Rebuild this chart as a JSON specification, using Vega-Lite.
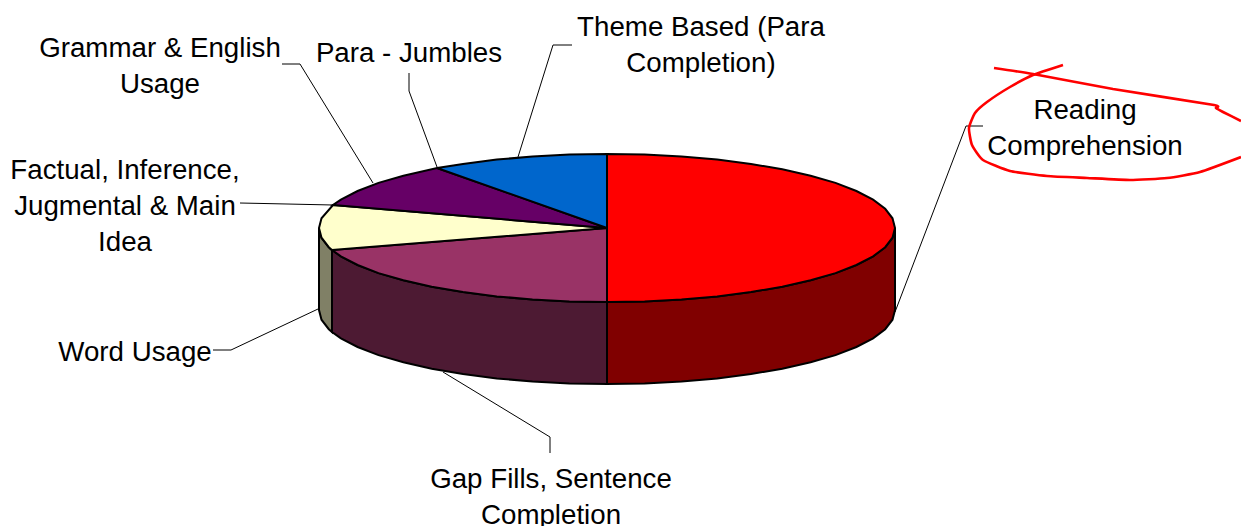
{
"$schema":"https://vega.github.io/schema/vega-lite/v6.json",
"width":1241,"height":526,"padding":0,"autosize":{"type":"none"},
"background":"#ffffff","config":{"view":{"stroke":null}},
"datasets":{
"walls":[
{"s":"Reading Comprehension side","x":0,"t":-74,"b":-156},{"s":"Reading Comprehension side","x":37.6,"t":-73.4,"b":-155.4},{"s":"Reading Comprehension side","x":74.5,"t":-71.5,"b":-153.5},{"s":"Reading Comprehension side","x":110.2,"t":-68.4,"b":-150.4},{"s":"Reading Comprehension side","x":144,"t":-64.1,"b":-146.1},{"s":"Reading Comprehension side","x":175.3,"t":-58.7,"b":-140.7},{"s":"Reading Comprehension side","x":203.6,"t":-52.3,"b":-134.3},{"s":"Reading Comprehension side","x":228.5,"t":-45.1,"b":-127.1},{"s":"Reading Comprehension side","x":249.4,"t":-37,"b":-119},{"s":"Reading Comprehension side","x":266.1,"t":-28.3,"b":-110.3},{"s":"Reading Comprehension side","x":278.2,"t":-19.2,"b":-101.2},{"s":"Reading Comprehension side","x":285.5,"t":-9.7,"b":-91.7},{"s":"Reading Comprehension side","x":288,"t":0,"b":-82},
{"s":"Gap Fills side","x":0,"t":-74,"b":-156},{"s":"Gap Fills side","x":-37.6,"t":-73.4,"b":-155.4},{"s":"Gap Fills side","x":-74.5,"t":-71.5,"b":-153.5},{"s":"Gap Fills side","x":-110.2,"t":-68.4,"b":-150.4},{"s":"Gap Fills side","x":-144,"t":-64.1,"b":-146.1},{"s":"Gap Fills side","x":-175.3,"t":-58.7,"b":-140.7},{"s":"Gap Fills side","x":-203.6,"t":-52.3,"b":-134.3},{"s":"Gap Fills side","x":-228.5,"t":-45.1,"b":-127.1},{"s":"Gap Fills side","x":-249.4,"t":-37,"b":-119},{"s":"Gap Fills side","x":-266.1,"t":-28.3,"b":-110.3},{"s":"Gap Fills side","x":-275,"t":-22,"b":-104},
{"s":"Word Usage side","x":-275,"t":-22,"b":-104},{"s":"Word Usage side","x":-278.2,"t":-19.2,"b":-101.2},{"s":"Word Usage side","x":-285.5,"t":-9.7,"b":-91.7},{"s":"Word Usage side","x":-288,"t":0,"b":-82}
],
"tops":[
{"s":"Reading Comprehension","i":0,"x":0,"y":0},{"s":"Reading Comprehension","i":1,"x":0,"y":74},{"s":"Reading Comprehension","i":2,"x":37.6,"y":73.4},{"s":"Reading Comprehension","i":3,"x":74.5,"y":71.5},{"s":"Reading Comprehension","i":4,"x":110.2,"y":68.4},{"s":"Reading Comprehension","i":5,"x":144,"y":64.1},{"s":"Reading Comprehension","i":6,"x":175.3,"y":58.7},{"s":"Reading Comprehension","i":7,"x":203.6,"y":52.3},{"s":"Reading Comprehension","i":8,"x":228.5,"y":45.1},{"s":"Reading Comprehension","i":9,"x":249.4,"y":37},{"s":"Reading Comprehension","i":10,"x":266.1,"y":28.3},{"s":"Reading Comprehension","i":11,"x":278.2,"y":19.2},{"s":"Reading Comprehension","i":12,"x":285.5,"y":9.7},{"s":"Reading Comprehension","i":13,"x":288,"y":0},{"s":"Reading Comprehension","i":14,"x":285.5,"y":-9.7},{"s":"Reading Comprehension","i":15,"x":278.2,"y":-19.2},{"s":"Reading Comprehension","i":16,"x":266.1,"y":-28.3},{"s":"Reading Comprehension","i":17,"x":249.4,"y":-37},{"s":"Reading Comprehension","i":18,"x":228.5,"y":-45.1},{"s":"Reading Comprehension","i":19,"x":203.6,"y":-52.3},{"s":"Reading Comprehension","i":20,"x":175.3,"y":-58.7},{"s":"Reading Comprehension","i":21,"x":144,"y":-64.1},{"s":"Reading Comprehension","i":22,"x":110.2,"y":-68.4},{"s":"Reading Comprehension","i":23,"x":74.5,"y":-71.5},{"s":"Reading Comprehension","i":24,"x":37.6,"y":-73.4},{"s":"Reading Comprehension","i":25,"x":0,"y":-74},{"s":"Reading Comprehension","i":26,"x":0,"y":0},
{"s":"Gap Fills","i":0,"x":0,"y":0},{"s":"Gap Fills","i":1,"x":0,"y":-74},{"s":"Gap Fills","i":2,"x":-37.6,"y":-73.4},{"s":"Gap Fills","i":3,"x":-74.5,"y":-71.5},{"s":"Gap Fills","i":4,"x":-110.2,"y":-68.4},{"s":"Gap Fills","i":5,"x":-144,"y":-64.1},{"s":"Gap Fills","i":6,"x":-175.3,"y":-58.7},{"s":"Gap Fills","i":7,"x":-203.6,"y":-52.3},{"s":"Gap Fills","i":8,"x":-228.5,"y":-45.1},{"s":"Gap Fills","i":9,"x":-249.4,"y":-37},{"s":"Gap Fills","i":10,"x":-266.1,"y":-28.3},{"s":"Gap Fills","i":11,"x":-275,"y":-22},{"s":"Gap Fills","i":12,"x":0,"y":0},
{"s":"Word Usage","i":0,"x":0,"y":0},{"s":"Word Usage","i":1,"x":-275,"y":-22},{"s":"Word Usage","i":2,"x":-278.2,"y":-19.2},{"s":"Word Usage","i":3,"x":-285.5,"y":-9.7},{"s":"Word Usage","i":4,"x":-288,"y":0},{"s":"Word Usage","i":5,"x":-285.5,"y":9.7},{"s":"Word Usage","i":6,"x":-274,"y":23},{"s":"Word Usage","i":7,"x":0,"y":0},
{"s":"Factual","i":0,"x":0,"y":0},{"s":"Factual","i":1,"x":-274,"y":23},{"s":"Factual","i":2,"x":-266.1,"y":28.3},{"s":"Factual","i":3,"x":-249.4,"y":37},{"s":"Factual","i":4,"x":-228.5,"y":45.1},{"s":"Factual","i":5,"x":-203.6,"y":52.3},{"s":"Factual","i":6,"x":-170,"y":60},{"s":"Factual","i":7,"x":0,"y":0},
{"s":"Para - Jumbles","i":0,"x":0,"y":0},{"s":"Para - Jumbles","i":1,"x":-170,"y":60},{"s":"Para - Jumbles","i":2,"x":-144,"y":64.1},{"s":"Para - Jumbles","i":3,"x":-110.2,"y":68.4},{"s":"Para - Jumbles","i":4,"x":-74.5,"y":71.5},{"s":"Para - Jumbles","i":5,"x":-37.6,"y":73.4},{"s":"Para - Jumbles","i":6,"x":0,"y":74},{"s":"Para - Jumbles","i":7,"x":0,"y":0}
],
"leaders":[
{"k":"g","i":0,"x":-325,"y":164},{"k":"g","i":1,"x":-307,"y":164},{"k":"g","i":2,"x":-234,"y":45},
{"k":"p","i":0,"x":-198,"y":155},{"k":"p","i":1,"x":-198,"y":137},{"k":"p","i":2,"x":-170,"y":61},
{"k":"t","i":0,"x":-89,"y":71},{"k":"t","i":1,"x":-54,"y":183},{"k":"t","i":2,"x":-35,"y":183},
{"k":"f","i":0,"x":-367,"y":25},{"k":"f","i":1,"x":-274,"y":23},
{"k":"w","i":0,"x":-394,"y":-122},{"k":"w","i":1,"x":-376,"y":-122},{"k":"w","i":2,"x":-289,"y":-81},
{"k":"c","i":0,"x":-164,"y":-144},{"k":"c","i":1,"x":-57,"y":-209},{"k":"c","i":2,"x":-57,"y":-225},
{"k":"r","i":0,"x":288,"y":-84},{"k":"r","i":1,"x":359,"y":102},{"k":"r","i":2,"x":376,"y":102}
],
"ink":[
{"k":"a","i":0,"x":387,"y":160},{"k":"a","i":1,"x":426,"y":154},{"k":"a","i":2,"x":506,"y":139},{"k":"a","i":3,"x":607,"y":123},{"k":"a","i":4,"x":609,"y":120},{"k":"a","i":5,"x":616,"y":116},{"k":"a","i":6,"x":634,"y":107},
{"k":"b","i":0,"x":456,"y":163},{"k":"b","i":1,"x":426,"y":153},{"k":"b","i":2,"x":403,"y":141},{"k":"b","i":3,"x":380,"y":126},{"k":"b","i":4,"x":368,"y":115},{"k":"b","i":5,"x":362,"y":100},{"k":"b","i":6,"x":365,"y":83},{"k":"b","i":7,"x":376,"y":68},{"k":"b","i":8,"x":403,"y":57},{"k":"b","i":9,"x":440,"y":52},{"k":"b","i":10,"x":480,"y":50},{"k":"b","i":11,"x":523,"y":48},{"k":"b","i":12,"x":560,"y":50},{"k":"b","i":13,"x":593,"y":56},{"k":"b","i":14,"x":634,"y":71}
],
"labels":[
{"t":"Grammar & English\nUsage","x":-447,"y":179},
{"t":"Para - Jumbles","x":-198,"y":174},
{"t":"Theme Based (Para\nCompletion)","x":94,"y":200},
{"t":"Reading\nComprehension","x":478,"y":117},
{"t":"Factual, Inference,\nJugmental & Main\nIdea","x":-482,"y":57},
{"t":"Word Usage","x":-472,"y":-125},
{"t":"Gap Fills,  Sentence\nCompletion","x":-56,"y":-252}
]
},
"layer":[
{"data":{"name":"leaders"},"mark":{"type":"line","stroke":"#000000","strokeWidth":1},
 "encoding":{"x":{"field":"x","type":"quantitative","scale":{"domain":[-607,634],"nice":false,"zero":false},"axis":null},"y":{"field":"y","type":"quantitative","scale":{"domain":[-298,228],"nice":false,"zero":false},"axis":null},"detail":{"field":"k"},"order":{"field":"i"}}},
{"data":{"name":"walls"},"mark":{"type":"area","stroke":"#000000","strokeWidth":2},
 "encoding":{"x":{"field":"x","type":"quantitative"},"y":{"field":"t","type":"quantitative"},"y2":{"field":"b"},"fill":{"field":"s","type":"nominal","legend":null,"scale":{"domain":["Reading Comprehension side","Gap Fills side","Word Usage side","Reading Comprehension","Gap Fills","Word Usage","Factual","Para - Jumbles"],"range":["#800000","#4D1A33","#808066","#FF0000","#993366","#FFFFCC","#660066","#0066CC"]}}}},
{"data":{"name":"tops"},"mark":{"type":"line","filled":true,"stroke":"#000000","strokeWidth":2},
 "encoding":{"x":{"field":"x","type":"quantitative"},"y":{"field":"y","type":"quantitative"},"fill":{"field":"s","type":"nominal","legend":null},"detail":{"field":"s"},"order":{"field":"i"}}},
{"data":{"name":"ink"},"mark":{"type":"line","stroke":"#FF0000","strokeWidth":2.6,"interpolate":"cardinal","tension":0.5},
 "encoding":{"x":{"field":"x","type":"quantitative"},"y":{"field":"y","type":"quantitative"},"detail":{"field":"k"},"order":{"field":"i"}}},
{"data":{"name":"labels"},"mark":{"type":"text","font":"Liberation Sans","fontSize":27.7,"color":"#000000","lineBreak":"\n","lineHeight":36,"align":"center","baseline":"middle"},
 "encoding":{"x":{"field":"x","type":"quantitative"},"y":{"field":"y","type":"quantitative"},"text":{"field":"t"}}}
]
}
